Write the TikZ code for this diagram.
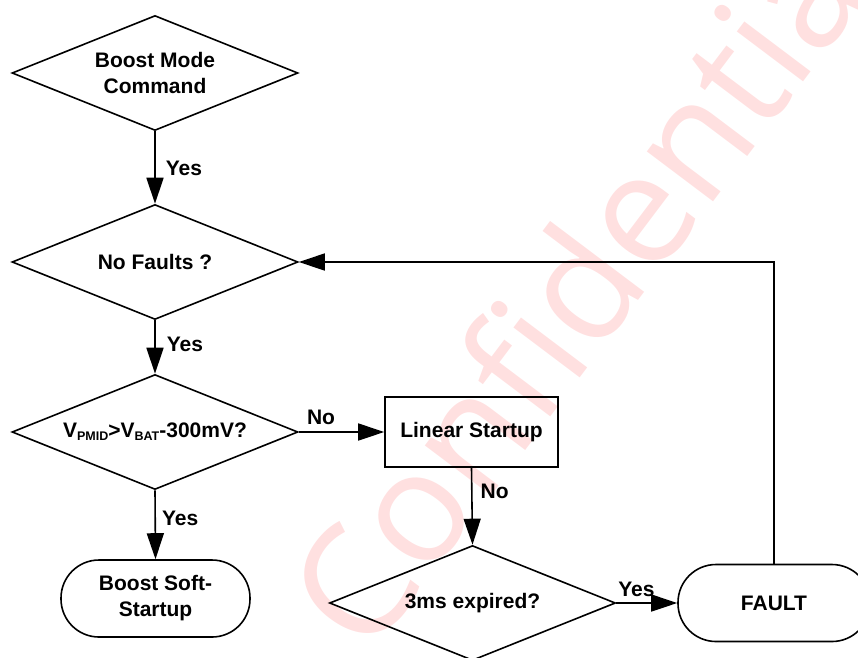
\documentclass[tikz,border=0pt]{standalone}
\usepackage{fontspec}
\setmainfont{Liberation Sans}
\newfontfamily\markfont{Open Sans}
\usetikzlibrary{shapes.geometric,arrows.meta}
\newcommand{\vsub}[1]{\raisebox{-3pt}{\fontsize{12.5}{13}\selectfont #1}}

\begin{document}
\begin{tikzpicture}[x=1pt,y=-1pt,
    every node/.style={font=\bfseries\fontsize{21}{26}\selectfont, align=center},
    decision/.style={draw, line width=1.6pt, diamond, aspect=2.5, inner sep=0pt,
        minimum width=286pt, minimum height=115pt},
    process/.style={draw, line width=1.6pt, rectangle, minimum width=173pt, minimum height=70pt},
    terminal/.style={draw, line width=1.6pt, rectangle, rounded corners=38pt,
        minimum width=189pt, minimum height=77pt},
    flow/.style={line width=1.6pt, -{Triangle[length=26pt,width=17pt]}},
    lbl/.style={inner sep=0pt}]
    \useasboundingbox (0,0) rectangle (858,657);
    \clip (0,0) rectangle (858,657);
    % watermark
    \node[anchor=base west, inner sep=0pt, rotate=53, text=red!12,
        font=\markfont\fontsize{155}{155}\selectfont] (mark) at (368,660) {Confidential};
    % flow chart
    \node[decision] (cmd) at (155,73) {Boost Mode\\Command};
    \node[decision] (faults) at (155,262) {No Faults ?};
    \node[decision] (vcheck) at (155,432) {V\vsub{PMID}>V\vsub{BAT}-300mV?};
    \node[terminal] (soft) at (155.5,598.5) {Boost Soft-\\Startup};
    \node[process] (linear) at (471.5,432) {Linear Startup};
    \node[decision] (expire) at (472.5,603) {3ms expired?};
    \node[terminal, minimum width=192pt] (fault) at (774,603) {FAULT};
    \draw[flow] (cmd.south) -- node[lbl, anchor=west, xshift=10pt, pos=0.51] {Yes} (faults.north);
    \draw[flow] (faults.south) -- node[lbl, anchor=west, xshift=11pt, pos=0.46] {Yes} (vcheck.north);
    \draw[flow] (vcheck.south) -- node[lbl, anchor=west, xshift=6pt, pos=0.41] {Yes} (soft.north);
    \draw[flow] (vcheck.east) -- node[lbl, anchor=south, yshift=7pt, pos=0.26] {No} (linear.west);
    \draw[flow] (linear.south) -- node[lbl, anchor=west, xshift=8pt, pos=0.31] {No} (expire.north);
    \draw[flow] (expire.east) -- node[lbl, anchor=south, yshift=6pt, pos=0.33] {Yes} (fault.west);
    \draw[flow] (fault.north) |- (faults.east);
\end{tikzpicture}
\end{document}
